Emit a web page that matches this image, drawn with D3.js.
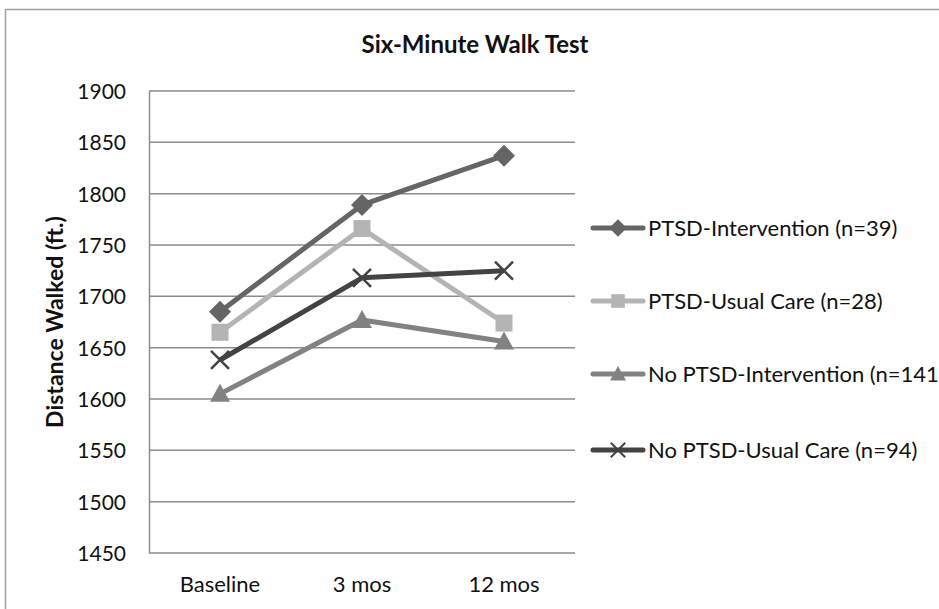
<!DOCTYPE html>
<html>
<head>
<meta charset="utf-8">
<script src="https://cdn.jsdelivr.net/npm/d3@7"></script>
<style>
  body { margin: 0; background: #fff; }
  text { font-family: Lato, "Open Sans", sans-serif; fill: #111; }
</style>
</head>
<body>
<div id="chart"></div>
<script>
(function () {

  // data
  var timepoints = ["Baseline", "3 mos", "12 mos"]
  var ptsdIntervention = [1685, 1789, 1837]
  var ptsdUsualCare = [1665, 1766, 1674]
  var noPtsdIntervention = [1605, 1677, 1656]
  var noPtsdUsualCare = [1638, 1718, 1725]
  var yTicks = [1450, 1500, 1550, 1600, 1650, 1700, 1750, 1800, 1850, 1900]

  var series = [
    { name: "PTSD-Intervention (n=39)", values: ptsdIntervention, color: "#656565", marker: "diamond" },
    { name: "PTSD-Usual Care (n=28)", values: ptsdUsualCare, color: "#b4b4b4", marker: "square" },
    { name: "No PTSD-Intervention (n=141)", values: noPtsdIntervention, color: "#828282", marker: "triangle" },
    { name: "No PTSD-Usual Care (n=94)", values: noPtsdUsualCare, color: "#434343", marker: "x" }
  ]

  var W = 939, H = 609
  var margin = { top: 91, right: 364, bottom: 56, left: 149 }
  var width = W - margin.left - margin.right,
    height = H - margin.top - margin.bottom

  var root = d3.select("#chart").append("svg")
    .attr("width", W)
    .attr("height", H)

  // outer frame (bottom and right edges fall outside the picture)
  root.append("rect")
    .attr("x", 5.5).attr("y", 9.5)
    .attr("width", W).attr("height", H + 20)
    .attr("fill", "none")
    .attr("stroke", "#a0a0a0")
    .attr("stroke-width", 1.5)

  // title is centred on the whole chart area, not the plot
  root.append("text")
    .attr("x", 475).attr("y", 53)
    .attr("text-anchor", "middle")
    .attr("font-size", 24)
    .attr("font-weight", "bold")
    .text("Six-Minute Walk Test")

  root.append("text")
    .attr("transform", "translate(63," + (margin.top + height / 2) + ") rotate(-90)")
    .attr("text-anchor", "middle")
    .attr("font-size", 23)
    .attr("font-weight", "bold")
    .text("Distance Walked (ft.)")

  var svg = root.append("g")
    .attr("transform", "translate(" + margin.left + "," + margin.top + ")")

  var x = d3.scaleBand().domain(timepoints).range([0, width])
  var y = d3.scaleLinear().domain([1450, 1900]).range([height, 0])

  // gridlines
  svg.append("g")
    .selectAll("line")
    .data(yTicks)
    .enter().append("line")
    .attr("x1", 0).attr("x2", width)
    .attr("y1", function (d) { return y(d) })
    .attr("y2", function (d) { return y(d) })
    .attr("stroke", "#8c8c8c")
    .attr("stroke-width", 1.5)

  var yAxis = d3.axisLeft(y).tickValues(yTicks).tickFormat(d3.format("d")).tickSize(0).tickPadding(23)
  svg.append("g")
    .attr("class", "axis y-axis")
    .call(yAxis)
    .call(function (g) {
      g.select(".domain").attr("stroke", "#8c8c8c").attr("stroke-width", 1.5)
      g.selectAll("text").attr("font-size", 21).attr("dy", "0.35em").attr("font-family", null)
    })

  var xAxis = d3.axisBottom(x).tickSize(0).tickPadding(0)
  svg.append("g")
    .attr("class", "axis x-axis")
    .attr("transform", "translate(0," + height + ")")
    .call(xAxis)
    .call(function (g) {
      g.select(".domain").remove()
      g.selectAll("text").attr("font-size", 22).attr("dy", null).attr("y", 39).attr("font-family", null)
    })

  var cx = function (i) { return x(timepoints[i]) + x.bandwidth() / 2 }

  var line = d3.line()
    .x(function (d, i) { return cx(i) })
    .y(function (d) { return y(d) })

  function drawMarker(g, type, color) {
    if (type === "diamond") {
      g.append("path").attr("d", "M0,-11L11,0L0,11L-11,0Z").attr("fill", color)
    } else if (type === "square") {
      g.append("rect").attr("x", -8.5).attr("y", -8.5).attr("width", 17).attr("height", 17).attr("fill", color)
    } else if (type === "triangle") {
      g.append("path").attr("d", "M0,-10L10,8L-10,8Z").attr("fill", color)
    } else {
      g.append("path").attr("d", "M-9,-9L9,9M-9,9L9,-9")
        .attr("stroke", color).attr("stroke-width", 2.5).attr("fill", "none")
    }
  }

  series.forEach(function (s) {
    svg.append("path")
      .datum(s.values)
      .attr("d", line)
      .attr("fill", "none")
      .attr("stroke", s.color)
      .attr("stroke-width", 5)
      .attr("stroke-linejoin", "round")

    s.values.forEach(function (v, i) {
      var g = svg.append("g").attr("transform", "translate(" + cx(i) + "," + y(v) + ")")
      drawMarker(g, s.marker, s.color)
    })
  })

  // legend
  var legendY = [228, 301, 374, 450]
  series.forEach(function (s, i) {
    var g = root.append("g").attr("transform", "translate(618," + legendY[i] + ")")
    g.append("line").attr("x1", -25).attr("x2", 25)
      .attr("stroke", s.color).attr("stroke-width", 5).attr("stroke-linecap", "round")
    var m = g.append("g").attr("transform", "scale(0.8)")
    drawMarker(m, s.marker, s.color)
    g.append("text")
      .attr("x", 30).attr("dy", "0.35em")
      .attr("font-size", 22)
      .text(s.name)
  })

})()
</script>
</body>
</html>
